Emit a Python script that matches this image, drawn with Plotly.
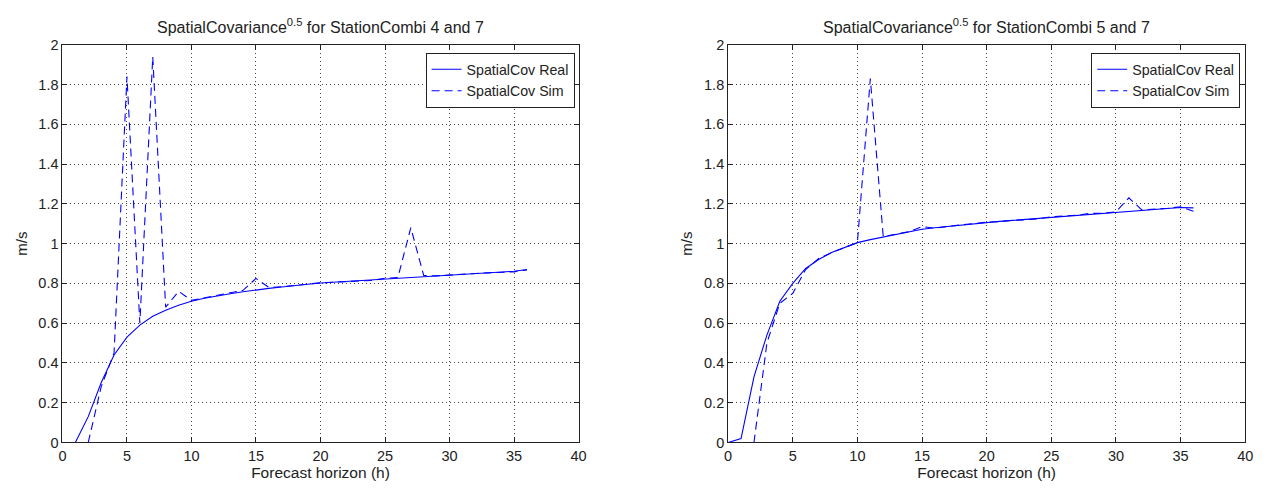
import plotly.graph_objects as go

# Forecast horizons (h)
hours_real_47 = list(range(1, 37))
hours_sim_47 = list(range(2, 37))
hours_real_57 = list(range(0, 37))
hours_sim_57 = list(range(2, 37))

# StationCombi 4 and 7 (m/s)
real_47 = [0.0, 0.13, 0.30, 0.44, 0.53, 0.59, 0.635, 0.665, 0.69, 0.71,
           0.725, 0.738, 0.748, 0.758, 0.768, 0.775, 0.782, 0.79, 0.796, 0.802,
           0.806, 0.81, 0.815, 0.82, 0.824, 0.828, 0.832, 0.836, 0.84, 0.843,
           0.847, 0.851, 0.854, 0.857, 0.861, 0.87]
sim_47 = [0.0, 0.28, 0.45, 1.84, 0.60, 1.94, 0.68, 0.76, 0.715,
          0.727, 0.738, 0.75, 0.765, 0.825, 0.78, 0.783, 0.79, 0.795, 0.803,
          0.806, 0.81, 0.814, 0.815, 0.826, 0.83, 1.08, 0.84, 0.838, 0.843,
          0.847, 0.85, 0.853, 0.857, 0.858, 0.868]

# StationCombi 5 and 7 (m/s)
real_57 = [0.0, 0.02, 0.33, 0.54, 0.71, 0.80, 0.875, 0.92, 0.955, 0.98, 1.005,
           1.02, 1.033, 1.047, 1.06, 1.072, 1.08, 1.087, 1.094, 1.1, 1.106,
           1.112, 1.117, 1.122, 1.128, 1.134, 1.14, 1.145, 1.15, 1.155, 1.16,
           1.165, 1.17, 1.174, 1.178, 1.182, 1.18]
sim_57 = [0.0, 0.50, 0.70, 0.75, 0.87, 0.925, 0.955, 0.98, 1.005,
          1.83, 1.035, 1.048, 1.06, 1.085, 1.078, 1.087, 1.093, 1.1, 1.108,
          1.11, 1.117, 1.12, 1.125, 1.135, 1.138, 1.143, 1.152, 1.153, 1.16,
          1.23, 1.17, 1.173, 1.178, 1.185, 1.163]

x_ticks = list(range(0, 41, 5))
y_ticks = [0, 0.2, 0.4, 0.6, 0.8, 1, 1.2, 1.4, 1.6, 1.8, 2]
y_tick_text = ["0", "0.2", "0.4", "0.6", "0.8", "1", "1.2", "1.4", "1.6", "1.8", "2"]

BLUE = "#0000ff"
FONT = "Liberation Sans, Arial, sans-serif"
INK = "#222"

fig = go.Figure()

panels = [
    ("x", "y", "legend", hours_real_47, real_47, hours_sim_47, sim_47),
    ("x2", "y2", "legend2", hours_real_57, real_57, hours_sim_57, sim_57),
]
for xa, ya, lg, xr, yr, xs, ys in panels:
    fig.add_trace(go.Scatter(x=xr, y=yr, mode="lines", name="SpatialCov Real",
                             line=dict(color=BLUE, width=1.1),
                             xaxis=xa, yaxis=ya, legend=lg))
    fig.add_trace(go.Scatter(x=xs, y=ys, mode="lines", name="SpatialCov Sim",
                             line=dict(color=BLUE, width=1.1, dash="8px,5px"),
                             xaxis=xa, yaxis=ya, legend=lg))

axis_common = dict(
    showline=True, linecolor=INK, linewidth=1, mirror="ticks",
    ticks="inside", ticklen=5, tickcolor=INK,
    showgrid=True, gridcolor="#444", griddash="1px,3px", gridwidth=1,
    zeroline=False, tickfont=dict(family=FONT, size=14.5, color=INK),
)
x_title = dict(text="Forecast horizon (h)", standoff=3,
               font=dict(family=FONT, size=15.5, color=INK))
y_title = dict(text="m/s", standoff=7, font=dict(family=FONT, size=15, color=INK))

y_dom = [1 - 449 / 495, 1 - 38 / 495]
legend_style = dict(yanchor="top", xanchor="right", y=1 - 46 / 495,
                    bordercolor=INK, borderwidth=1, bgcolor="white",
                    font=dict(family=FONT, size=14.2, color=INK), tracegroupgap=0)

fig.update_layout(
    width=1275, height=495,
    margin=dict(l=0, r=0, t=0, b=0),
    paper_bgcolor="white", plot_bgcolor="white",
    font=dict(family=FONT, size=14, color=INK),
    xaxis=dict(domain=[59 / 1275, 580 / 1275], range=[0, 40], tickvals=x_ticks,
               title=x_title, anchor="y", **axis_common),
    yaxis=dict(domain=y_dom, range=[0, 2], tickvals=y_ticks, ticktext=y_tick_text,
               title=y_title, anchor="x", **axis_common),
    xaxis2=dict(domain=[731 / 1275, 1253 / 1275], range=[0, 40], tickvals=x_ticks,
                title=x_title, anchor="y2", **axis_common),
    yaxis2=dict(domain=y_dom, range=[0, 2], tickvals=y_ticks, ticktext=y_tick_text,
                title=y_title, anchor="x2", **axis_common),
    legend=dict(x=576 / 1275, **legend_style),
    legend2=dict(x=1248 / 1275, **legend_style),
    showlegend=True,
    annotations=[
        dict(text="SpatialCovariance<sup>0.5</sup> for StationCombi 4 and 7",
             x=(59 + 580) / 2 / 1275, y=1 - 19 / 495, xref="paper", yref="paper",
             xanchor="center", yanchor="middle", showarrow=False,
             font=dict(family=FONT, size=16, color=INK)),
        dict(text="SpatialCovariance<sup>0.5</sup> for StationCombi 5 and 7",
             x=(731 + 1253) / 2 / 1275, y=1 - 19 / 495, xref="paper", yref="paper",
             xanchor="center", yanchor="middle", showarrow=False,
             font=dict(family=FONT, size=16, color=INK)),
    ],
)

fig.write_html("out.html")
